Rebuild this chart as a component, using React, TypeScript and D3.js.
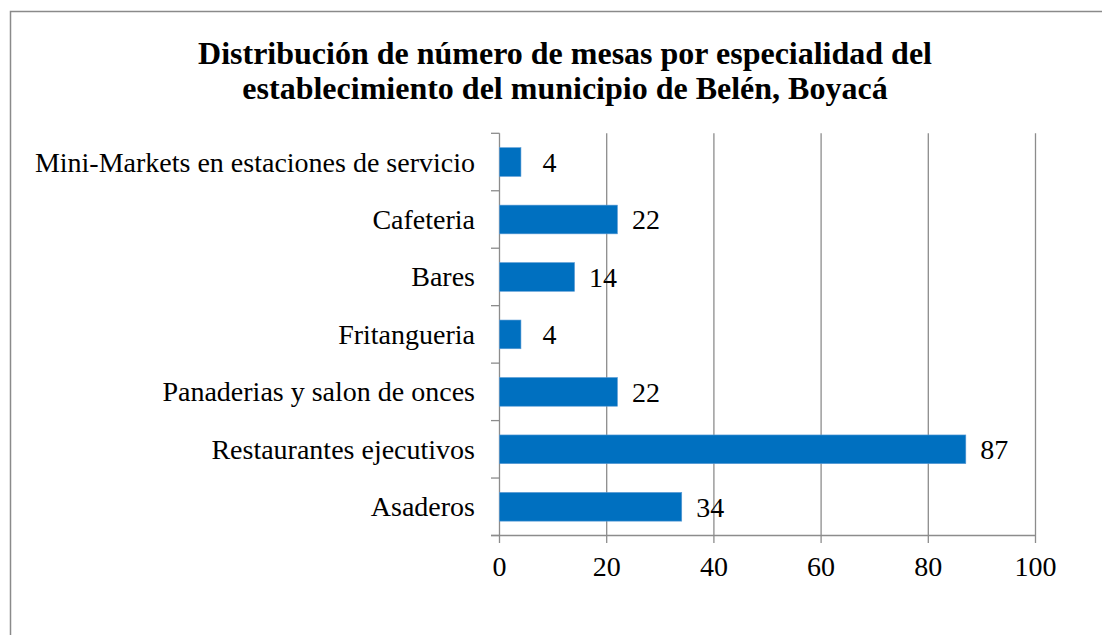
import React from "react";
import * as d3 from "d3";

const categories = [
  "Mini-Markets en estaciones de servicio",
  "Cafeteria",
  "Bares",
  "Fritangueria",
  "Panaderias y salon de onces",
  "Restaurantes ejecutivos",
  "Asaderos",
];
const values = [4, 22, 14, 4, 22, 87, 34];
const xTicks = [0, 20, 40, 60, 80, 100];
const titleLines = [
  "Distribución de número de mesas por especialidad del",
  "establecimiento del municipio de Belén, Boyacá",
];

const W = 1102;
const H = 635;
const FONT = "'Liberation Serif', 'Times New Roman', serif";

export default function App() {
  const x = d3.scaleLinear().domain([0, 100]).range([499.5, 1035.5]);
  const y = d3
    .scaleBand<string>()
    .domain(categories)
    .range([133.3, 535.5])
    .paddingInner(0.5)
    .paddingOuter(0.25);
  const bandStep = y.step();
  const gridColor = "#8c8c8c";

  return (
    <div style={{ position: "fixed", left: 0, top: 0 }}>
      <svg width={W} height={H} style={{ display: "block", background: "#fff" }}>
        <rect x={10.5} y={11.5} width={W + 20} height={H + 20} fill="#fff" stroke="#8a8a8a" strokeWidth={1.5} />
        {titleLines.map((t, i) => (
          <text
            key={i}
            x={565}
            y={63.5 + i * 35}
            textAnchor="middle"
            fontFamily={FONT}
            fontWeight="bold"
            fontSize={32}
            fill="#000"
          >
            {t}
          </text>
        ))}
        {/* gridlines */}
        {xTicks.map((t) => (
          <line key={"g" + t} x1={x(t)} x2={x(t)} y1={133.3} y2={543} stroke={gridColor} strokeWidth={1.3} />
        ))}
        {/* bottom axis line */}
        <line x1={491} x2={1036} y1={535.5} y2={535.5} stroke={gridColor} strokeWidth={1.3} />
        {/* left category ticks */}
        {d3.range(categories.length + 1).map((i) => (
          <line
            key={"lt" + i}
            x1={491}
            x2={x(0)}
            y1={133.3 + i * bandStep}
            y2={133.3 + i * bandStep}
            stroke={gridColor}
            strokeWidth={1.3}
          />
        ))}
        {/* bars */}
        {categories.map((c, i) => (
          <rect
            key={c}
            x={x(0)}
            y={y(c)!}
            width={x(values[i]) - x(0)}
            height={y.bandwidth()}
            fill="#0070C0"
            stroke="#5b9bd5"
            strokeWidth={0.6}
          />
        ))}
        {/* category labels */}
        {categories.map((c) => (
          <text
            key={"l" + c}
            x={475}
            y={y(c)! + y.bandwidth() / 2 + 9.5}
            textAnchor="end"
            fontFamily={FONT}
            fontSize={28}
            fill="#000"
          >
            {c}
          </text>
        ))}
        {/* value labels */}
        {categories.map((c, i) => (
          <text
            key={"v" + c}
            x={x(values[i]) + 28.5}
            y={y(c)! + y.bandwidth() / 2 + 10}
            textAnchor="middle"
            fontFamily={FONT}
            fontSize={28}
            fill="#000"
          >
            {values[i]}
          </text>
        ))}
        {/* x tick labels */}
        {xTicks.map((t) => (
          <text key={"t" + t} x={x(t)} y={576} textAnchor="middle" fontFamily={FONT} fontSize={28} fill="#000">
            {t}
          </text>
        ))}
      </svg>
    </div>
  );
}
